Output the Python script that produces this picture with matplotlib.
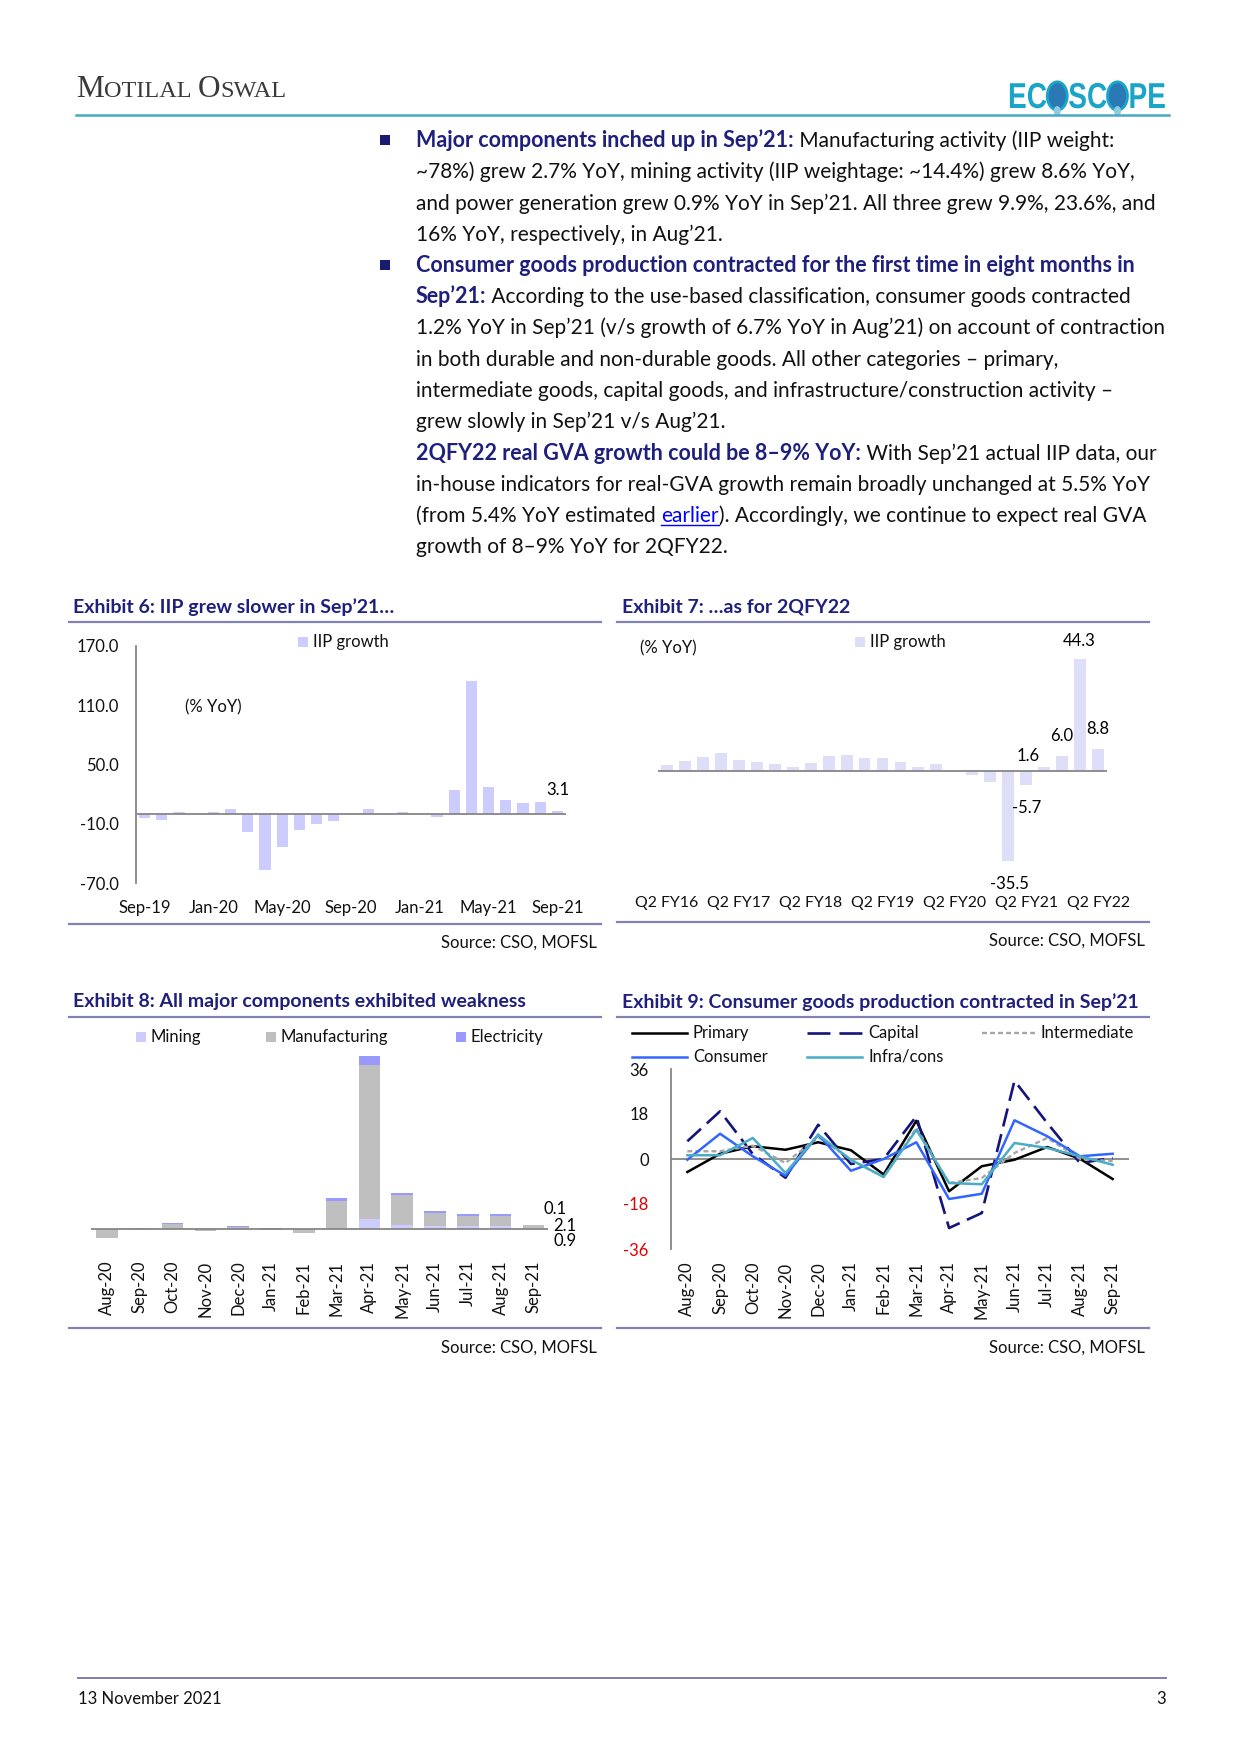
import matplotlib
matplotlib.use("Agg")
import matplotlib.pyplot as plt
from matplotlib.lines import Line2D
from matplotlib.patches import Rectangle, Circle, PathPatch
from matplotlib.textpath import TextPath
from matplotlib.font_manager import FontProperties
from matplotlib.transforms import Affine2D, IdentityTransform
from matplotlib.ticker import FormatStrFormatter
import numpy as np

W, H = 1241, 1755
FONT = ["Lato", "DejaVu Sans"]
NAVY = "#1f1f7c"
RULE = "#8282b2"
AXIS = "#868686"
CH = 12  # chart text size (pt)

plt.rcParams["font.family"] = FONT
plt.rcParams["axes.unicode_minus"] = False

# ---------------------------------------------------------------------------
# Exhibit 6: monthly IIP growth (% YoY)
# ---------------------------------------------------------------------------
m_labels = ["Sep-19", "Oct-19", "Nov-19", "Dec-19", "Jan-20", "Feb-20", "Mar-20",
            "Apr-20", "May-20", "Jun-20", "Jul-20", "Aug-20", "Sep-20", "Oct-20",
            "Nov-20", "Dec-20", "Jan-21", "Feb-21", "Mar-21", "Apr-21", "May-21",
            "Jun-21", "Jul-21", "Aug-21", "Sep-21"]
m_growth = [-4.6, -6.6, 2.1, 0.4, 2.2, 5.2, -18.7, -57.3, -33.4, -16.6, -10.5,
            -7.1, 0.5, 4.5, -1.6, 2.2, -0.6, -3.4, 24.2, 134.4, 27.6, 13.8,
            11.5, 11.9, 3.1]

# ---------------------------------------------------------------------------
# Exhibit 7: quarterly IIP growth (% YoY)
# ---------------------------------------------------------------------------
q_labels = ["Q2 FY16", "Q3 FY16", "Q4 FY16", "Q1 FY17", "Q2 FY17", "Q3 FY17",
            "Q4 FY17", "Q1 FY18", "Q2 FY18", "Q3 FY18", "Q4 FY18", "Q1 FY19",
            "Q2 FY19", "Q3 FY19", "Q4 FY19", "Q1 FY20", "Q2 FY20", "Q3 FY20",
            "Q4 FY20", "Q1 FY21", "Q2 FY21", "Q3 FY21", "Q4 FY21", "Q1 FY22",
            "Q2 FY22"]
q_growth = [2.2, 4.1, 5.4, 7.0, 4.3, 3.7, 2.9, 1.7, 3.1, 5.8, 6.3, 5.0, 5.1,
            3.4, 1.4, 2.6, -0.2, -1.6, -4.5, -35.5, -5.7, 1.6, 6.0, 44.3, 8.8]
q_annotated = [19, 20, 21, 22, 23, 24]

# ---------------------------------------------------------------------------
# Exhibit 8: contribution of major components (pp)
# ---------------------------------------------------------------------------
c_labels = ["Aug-20", "Sep-20", "Oct-20", "Nov-20", "Dec-20", "Jan-21", "Feb-21",
            "Mar-21", "Apr-21", "May-21", "Jun-21", "Jul-21", "Aug-21", "Sep-21"]
mining = [-1.0, -0.2, -0.2, -0.3, -0.1, -0.3, -0.7, 0.8, 7.7, 3.1, 2.6, 2.1, 2.3, 0.9]
manufacturing = [-6.0, 0.1, 3.6, -1.5, 1.7, -0.5, -2.6, 21.0, 119.4, 23.3, 10.1,
                 8.3, 7.8, 2.1]
electricity = [-0.1, 0.4, 1.0, 0.3, 0.5, 0.4, 0.1, 2.2, 7.0, 1.3, 1.0, 1.3, 1.8, 0.1]

# ---------------------------------------------------------------------------
# Exhibit 9: use-based classification (% YoY)
# ---------------------------------------------------------------------------
u_labels = c_labels
primary = [-5.2, 2.1, 5.1, 3.7, 6.7, 3.5, -6.2, 15.3, -12.9, -2.9, -0.3, 4.8, 0.1, -8.0]
capital = [7.1, 19.1, 2.0, -7.5, 13.7, -2.0, 0.0, 17.1, -27.6, -21.6, 31.3, 14.4, -1.6, 0.4]
intermediate = [3.1, 3.1, 5.3, -1.6, 8.8, -0.3, -7.2, 12.4, -9.6, -7.6, 2.4, 8.4, 0.1, -0.9]
consumer = [-0.3, 10.1, 1.1, -6.7, 9.7, -4.7, 0.0, 6.7, -16.0, -13.9, 15.5, 9.1, 1.1, 2.1]
infra = [1.5, 1.5, 8.4, -5.6, 9.7, -0.3, -7.2, 11.7, -9.6, -10.1, 6.4, 4.4, 1.1, -2.3]

fig = plt.figure(figsize=(W / 100, H / 100), dpi=100)
fig.patch.set_facecolor("white")
R = fig.canvas.get_renderer()


def fx(x):
    return x / W


def fy(y):
    return 1 - y / H


def axes_px(x0, y0, x1, y1):
    return fig.add_axes([x0 / W, 1 - y1 / H, (x1 - x0) / W, (y1 - y0) / H])


def hline(x0, x1, y, color=RULE, lw=1.6):
    fig.add_artist(Line2D([fx(x0), fx(x1)], [fy(y), fy(y)], color=color, lw=lw))


def text_width(s, **kw):
    # pad with X so leading / trailing spaces are counted
    t = fig.text(0, 0, "X" + s + "X", **kw)
    t2 = fig.text(0, 0, "XX", **kw)
    w = t.get_window_extent(R).width - t2.get_window_extent(R).width
    t.remove()
    t2.remove()
    return w


def rich_line(x, y, parts):
    """parts: list of (text, kwargs). y is the baseline in pixels."""
    cx = x
    for s, kw in parts:
        fig.text(fx(cx), fy(y), s, va="baseline", ha="left", **kw)
        w = text_width(s, **kw)
        if kw.get("color") == "#0000ff":
            lead = text_width(s[:len(s) - len(s.lstrip())], **kw)
            hline(cx + lead, cx + w, y + 3, color="#0000ff", lw=1.0)
        cx += w
    return cx


def fit_size(s, width, **kw):
    return 10 * width / text_width(s, fontsize=10, **kw)


# ---------------------------------------------------------------------------
# Header
# ---------------------------------------------------------------------------
serif = ["Liberation Serif", "DejaVu Serif"]
big = dict(fontsize=22.5, family=serif, color="#3a3a3a")
small = dict(fontsize=17.5, family=serif, color="#3a3a3a")
rich_line(76, 97, [("M", big), ("OTILAL", small), (" ", small), ("O", big), ("SWAL", small)])

# logo: condensed bold letters drawn as paths, globes for the two O's
logo_fp = FontProperties(family="Liberation Sans", weight="bold")
LOGO_SX, LOGO_SY, LOGO_SIZE = 0.78, 1.0, 36
lx = 1008
for piece in ["EC", None, "SC", None, "PE"]:
    if piece is None:
        fig.add_artist(Circle((fx(lx + 10), fy(96)), 10 / W, transform=fig.transFigure,
                              facecolor="#2a78b4", edgecolor="#1aa6cc", lw=2))
        fig.add_artist(Circle((fx(lx + 10), fy(111)), 3.5 / W, transform=fig.transFigure,
                              facecolor="#8fcbe0", edgecolor="none"))
        lx += 21
    else:
        tp = TextPath((0, 0), piece, size=LOGO_SIZE, prop=logo_fp)
        tr = Affine2D().scale(LOGO_SX, LOGO_SY).translate(lx, H - 108)
        fig.add_artist(PathPatch(tp, transform=tr + IdentityTransform(),
                                 facecolor="#19a4c8", edgecolor="none"))
        lx += tp.get_extents().x1 * LOGO_SX + 1

hline(76, 1169, 115, color="#4aa8c4", lw=1.8)

# ---------------------------------------------------------------------------
# Body text
# ---------------------------------------------------------------------------
body_size = fit_size("1.2% YoY in Sep’21 (v/s growth of 6.7% YoY in Aug’21) on account of contraction", 752)
B = dict(fontsize=body_size * 1.03, weight="bold", color=NAVY)
N = dict(fontsize=body_size, color="#111111")
L = dict(fontsize=body_size, color="#0000ff")

body = [
    [("Major components inched up in Sep’21:", B), (" Manufacturing activity (IIP weight:", N)],
    [("~78%) grew 2.7% YoY, mining activity (IIP weightage: ~14.4%) grew 8.6% YoY,", N)],
    [("and power generation grew 0.9% YoY in Sep’21. All three grew 9.9%, 23.6%, and", N)],
    [("16% YoY, respectively, in Aug’21.", N)],
    [("Consumer goods production contracted for the first time in eight months in", B)],
    [("Sep’21:", B), (" According to the use-based classification, consumer goods contracted", N)],
    [("1.2% YoY in Sep’21 (v/s growth of 6.7% YoY in Aug’21) on account of contraction", N)],
    [("in both durable and non-durable goods. All other categories – primary,", N)],
    [("intermediate goods, capital goods, and infrastructure/construction activity –", N)],
    [("grew slowly in Sep’21 v/s Aug’21.", N)],
    [("2QFY22 real GVA growth could be 8–9% YoY:", B), (" With Sep’21 actual IIP data, our", N)],
    [("in-house indicators for real-GVA growth remain broadly unchanged at 5.5% YoY", N)],
    [("(from 5.4% YoY estimated ", N), ("earlier", L), ("). Accordingly, we continue to expect real GVA", N)],
    [("growth of 8–9% YoY for 2QFY22.", N)],
]
for i, parts in enumerate(body):
    yc = 140 + 31.25 * i
    rich_line(416, yc + 7, parts)
for i in (0, 4):
    yc = 140 + 31.25 * i
    fig.add_artist(Rectangle((fx(380), fy(yc + 5)), 10 / W, 10 / H,
                             transform=fig.transFigure, facecolor="#1a1a70", edgecolor="none"))

# ---------------------------------------------------------------------------
# Exhibit frames: titles, rules, sources
# ---------------------------------------------------------------------------
title_size = fit_size("Exhibit 8: All major components exhibited weakness", 452, weight="bold")
TT = dict(fontsize=title_size, weight="bold", color=NAVY, va="center", ha="left")
fig.text(fx(73), fy(607), "Exhibit 6: IIP grew slower in Sep’21…", **TT)
fig.text(fx(622), fy(607), "Exhibit 7: …as for 2QFY22", **TT)
fig.text(fx(73), fy(1002), "Exhibit 8: All major components exhibited weakness", **TT)
fig.text(fx(622), fy(1002), "Exhibit 9: Consumer goods production contracted in Sep’21", **TT)
for (x0, x1, y) in [(69, 601, 622), (617, 1149, 622), (69, 601, 1017), (617, 1149, 1017),
                    (69, 601, 924), (617, 1149, 922), (69, 601, 1328), (617, 1149, 1328)]:
    hline(x0, x1, y)
SRC = dict(fontsize=CH, color="#111111", va="center", ha="right")
fig.text(fx(597), fy(943), "Source: CSO, MOFSL", **SRC)
fig.text(fx(1145), fy(941), "Source: CSO, MOFSL", **SRC)
fig.text(fx(597), fy(1348), "Source: CSO, MOFSL", **SRC)
fig.text(fx(1145), fy(1348), "Source: CSO, MOFSL", **SRC)


def legend_square(x, y, color, label):
    fig.add_artist(Rectangle((fx(x - 5), fy(y + 5)), 10 / W, 10 / H,
                             transform=fig.transFigure, facecolor=color, edgecolor="none"))
    fig.text(fx(x + 10), fy(y), label, fontsize=CH, va="center", ha="left", color="#111111")


def legend_line(x0, x1, y, label, **kw):
    fig.add_artist(Line2D([fx(x0), fx(x1)], [fy(y), fy(y)], **kw))
    fig.text(fx(x1 + 6), fy(y), label, fontsize=CH, va="center", ha="left", color="#111111")


def clean(ax):
    for s in ax.spines.values():
        s.set_visible(False)
    ax.set_facecolor("none")
    ax.tick_params(length=0, labelsize=CH, colors="#111111")


# ---------------------------------------------------------------------------
# Exhibit 6
# ---------------------------------------------------------------------------
ax6 = axes_px(136, 646, 566, 883)
clean(ax6)
x6 = np.arange(len(m_labels))
ax6.bar(x6, m_growth, width=0.66, color="#ccccff")
ax6.axhline(0, color=AXIS, lw=1.3)
ax6.spines["left"].set_visible(True)
ax6.spines["left"].set_color(AXIS)
ax6.spines["left"].set_linewidth(1.3)
ax6.set_xlim(-0.5, len(x6) - 0.5)
ax6.set_ylim(-70, 170)
ax6.set_yticks([-70, -10, 50, 110, 170])
ax6.yaxis.set_major_formatter(FormatStrFormatter("%.1f"))
ax6.set_xticks(x6[::4])
ax6.set_xticklabels(m_labels[::4])
ax6.tick_params(axis="y", pad=12)
ax6.tick_params(axis="x", pad=12)
ax6.annotate(f"{m_growth[-1]:.1f}", xy=(x6[-1], m_growth[-1]), xytext=(0, 15),
             textcoords="offset points", ha="center", va="center", fontsize=CH)
fig.text(fx(213), fy(707), "(% YoY)", fontsize=CH, ha="center", va="center", color="#111111")
legend_square(303, 642, "#ccccff", "IIP growth")

# ---------------------------------------------------------------------------
# Exhibit 7
# ---------------------------------------------------------------------------
ax7 = axes_px(658, 646, 1107, 883)
clean(ax7)
x7 = np.arange(len(q_labels))
ax7.bar(x7, q_growth, width=0.66, color="#dedef8")
ax7.axhline(0, color=AXIS, lw=1.3)
ax7.set_xlim(-0.5, len(x7) - 0.5)
ax7.set_ylim(-44.3, 49.4)
ax7.set_yticks([])
ax7.set_xticks(x7[::4])
ax7.set_xticklabels(q_labels[::4])
ax7.tick_params(axis="x", pad=9.5, labelsize=11.4)
offsets7 = {19: (1, -16.5), 20: (0, -16.5), 21: (-11.5, 8), 22: (0, 14.4),
            23: (-0.5, 13), 24: (0, 14.4)}
for i in q_annotated:
    ax7.annotate(f"{q_growth[i]:.1f}", xy=(x7[i], q_growth[i]), xytext=offsets7[i],
                 textcoords="offset points", ha="center", va="center", fontsize=CH)
fig.text(fx(668), fy(648), "(% YoY)", fontsize=CH, ha="center", va="center", color="#111111")
legend_square(860, 642, "#dedef8", "IIP growth")

# ---------------------------------------------------------------------------
# Exhibit 8
# ---------------------------------------------------------------------------
ax8 = axes_px(90.6, 1040.7, 548, 1249.6)
clean(ax8)
x8 = np.arange(len(c_labels))
pos_base = np.zeros(len(x8))
neg_base = np.zeros(len(x8))
for vals, col in [(mining, "#ccccff"), (manufacturing, "#bfbfbf"), (electricity, "#9999ff")]:
    v = np.asarray(vals, dtype=float)
    base = np.where(v >= 0, pos_base, neg_base)
    ax8.bar(x8, v, bottom=base, width=0.66, color=col)
    pos_base = pos_base + np.where(v >= 0, v, 0)
    neg_base = neg_base + np.where(v < 0, v, 0)
ax8.axhline(0, color=AXIS, lw=1.3)
ax8.set_xlim(-0.5, 13.445)
ax8.set_ylim(-16, 146)
ax8.set_yticks([])
ax8.set_xticks(x8)
ax8.set_xticklabels(c_labels, rotation=90, va="top")
ax8.tick_params(axis="x", pad=8)
last = len(x8) - 1
top_last = pos_base[last]
for txt, off in [(f"{electricity[last]:.1f}", (-0.7, 11.5)),
                 (f"{manufacturing[last]:.1f}", (6.5, -0.5)),
                 (f"{mining[last]:.1f}", (6.5, -11.5))]:
    ax8.annotate(txt, xy=(x8[last] + 0.33, top_last), xytext=off,
                 textcoords="offset points", ha="left", va="center", fontsize=CH)
legend_square(141, 1037, "#ccccff", "Mining")
legend_square(271, 1037, "#bfbfbf", "Manufacturing")
legend_square(461, 1037, "#9999ff", "Electricity")

# ---------------------------------------------------------------------------
# Exhibit 9
# ---------------------------------------------------------------------------
ax9 = axes_px(671, 1069, 1129, 1249)
clean(ax9)
x9 = np.arange(len(u_labels))
styles = [
    ("Primary", primary, dict(color="black", lw=1.8)),
    ("Capital", capital, dict(color="#14147a", lw=1.9, dashes=(7, 3))),
    ("Intermediate", intermediate, dict(color="#a6a6a6", lw=1.7, dashes=(2.1, 1.3))),
    ("Consumer", consumer, dict(color="#3366ff", lw=1.8)),
    ("Infra/cons", infra, dict(color="#4bacc6", lw=1.8)),
]
for name, vals, kw in styles:
    ax9.plot(x9, vals, **kw)
ax9.axhline(0, color=AXIS, lw=1.3, zorder=0)
ax9.spines["left"].set_visible(True)
ax9.spines["left"].set_color(AXIS)
ax9.spines["left"].set_linewidth(1.3)
ax9.set_xlim(-0.5, 13.5)
ax9.set_ylim(-36, 36)
ax9.set_yticks([-36, -18, 0, 18, 36])
ax9.set_xticks(x9)
ax9.set_xticklabels(u_labels, rotation=90, va="top")
ax9.tick_params(axis="x", pad=9)
ax9.tick_params(axis="y", pad=16)
for lab, val in zip(ax9.get_yticklabels(), [-36, -18, 0, 18, 36]):
    lab.set_color("#e00000" if val < 0 else "#111111")

legend_pos = {"Primary": (632, 687, 1033), "Capital": (807, 862, 1033),
              "Intermediate": (982, 1035, 1033), "Consumer": (632, 687, 1057),
              "Infra/cons": (807, 862, 1057)}
for name, vals, kw in styles:
    x0, x1, y = legend_pos[name]
    if name == "Capital":
        kw = dict(kw, dashes=(8.7, 3.4))  # two long dashes in the key
    legend_line(x0, x1, y, name, **kw)

# ---------------------------------------------------------------------------
# Footer
# ---------------------------------------------------------------------------
hline(78, 1166, 1678, color="#7f7fb0", lw=1.4)
fig.text(fx(78), fy(1699), "13 November 2021", fontsize=CH, va="center", ha="left", color="#111111")
fig.text(fx(1166), fy(1699), "3", fontsize=CH, va="center", ha="right", color="#111111")

fig.savefig("out.png", dpi=100, facecolor="white")
